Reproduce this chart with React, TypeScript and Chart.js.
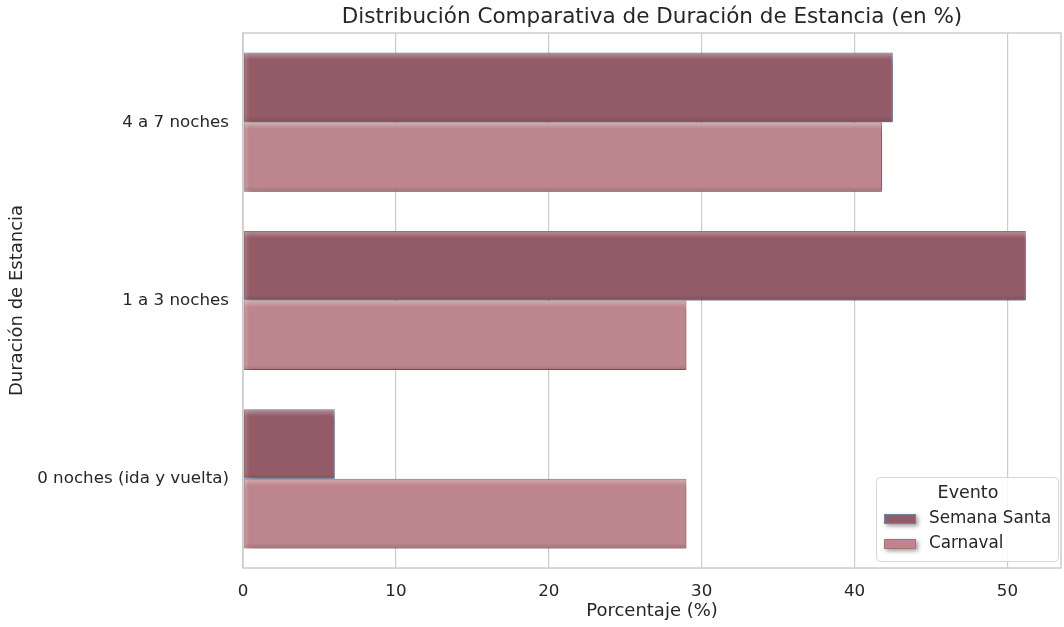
import React, { useEffect, useRef } from "react";
import { Chart, registerables } from "chart.js";

Chart.register(...registerables);

const categories = ["4 a 7 noches", "1 a 3 noches", "0 noches (ida y vuelta)"];
const semanaSanta = [42.5, 51.2, 6.0];
const carnaval = [41.8, 29.0, 29.0];
const xTicks = [0, 10, 20, 30, 40, 50];

const FONT = "'DejaVu Sans', sans-serif";
const COLOR_SS = "#935b67";
const COLOR_CA = "#bd858d";

// soft drop shadow behind each bar
const shadowPlugin = {
  id: "barShadow",
  beforeDatasetDraw(chart: any) {
    const ctx = chart.ctx;
    ctx.save();
    ctx.shadowColor = "rgba(0,0,0,0.4)";
    ctx.shadowBlur = 8;
    ctx.shadowOffsetX = 3;
    ctx.shadowOffsetY = 4;
  },
  afterDatasetDraw(chart: any) {
    chart.ctx.restore();
  },
};

// bevel highlights on bars, plot frame, title and legend box
const decorPlugin = {
  id: "decor",
  afterDatasetsDraw(chart: any) {
    const ctx = chart.ctx;
    chart.data.datasets.forEach((_: any, di: number) => {
      const meta = chart.getDatasetMeta(di);
      meta.data.forEach((bar: any) => {
        const left = Math.min(bar.base, bar.x);
        const right = Math.max(bar.base, bar.x);
        const top = bar.y - bar.height / 2;
        const bottom = bar.y + bar.height / 2;
        const w = right - left;
        ctx.save();
        const g = ctx.createLinearGradient(0, top, 0, top + 7);
        g.addColorStop(0, "rgba(255,255,255,0.32)");
        g.addColorStop(1, "rgba(255,255,255,0)");
        ctx.fillStyle = g;
        ctx.fillRect(left + 1, top + 1, w - 2, 7);
        const gl = ctx.createLinearGradient(left, 0, left + 6, 0);
        gl.addColorStop(0, "rgba(255,255,255,0.2)");
        gl.addColorStop(1, "rgba(255,255,255,0)");
        ctx.fillStyle = gl;
        ctx.fillRect(left + 1, top + 1, 6, bar.height - 2);
        const gb = ctx.createLinearGradient(0, bottom - 5, 0, bottom);
        gb.addColorStop(0, "rgba(0,0,0,0)");
        gb.addColorStop(1, "rgba(0,0,0,0.14)");
        ctx.fillStyle = gb;
        ctx.fillRect(left + 1, bottom - 5, w - 2, 4);
        ctx.restore();
      });
    });
  },
  afterDraw(chart: any) {
    const ctx = chart.ctx;
    const a = chart.chartArea;
    ctx.save();
    // frame
    ctx.strokeStyle = "#cccccc";
    ctx.lineWidth = 1.5;
    ctx.strokeRect(a.left, a.top, a.right - a.left, a.bottom - a.top);
    // title
    ctx.fillStyle = "#262626";
    ctx.font = `21.5px ${FONT}`;
    ctx.textAlign = "center";
    ctx.textBaseline = "middle";
    ctx.fillText(
      "Distribución Comparativa de Duración de Estancia (en %)",
      (a.left + a.right) / 2,
      17
    );
    // legend
    const lx = 876, ly = 477, lw = 182, lh = 84;
    ctx.fillStyle = "rgba(255,255,255,0.85)";
    ctx.strokeStyle = "#d6d6d6";
    ctx.lineWidth = 1;
    ctx.beginPath();
    ctx.roundRect(lx + 0.5, ly + 0.5, lw, lh, 4);
    ctx.fill();
    ctx.stroke();
    ctx.fillStyle = "#262626";
    ctx.font = `17.5px ${FONT}`;
    ctx.fillText("Evento", lx + lw / 2 + 1, ly + 16);
    const items = [
      { label: "Semana Santa", color: COLOR_SS, edge: "#6f84a8" },
      { label: "Carnaval", color: COLOR_CA, edge: "#a8756c" },
    ];
    items.forEach((it, i) => {
      const cy = ly + 42 + i * 25;
      ctx.save();
      ctx.shadowColor = "rgba(0,0,0,0.4)";
      ctx.shadowBlur = 4;
      ctx.shadowOffsetX = 2;
      ctx.shadowOffsetY = 2;
      ctx.fillStyle = it.color;
      ctx.fillRect(lx + 8, cy - 5, 32, 10);
      ctx.restore();
      ctx.strokeStyle = it.edge;
      ctx.lineWidth = 1;
      ctx.strokeRect(lx + 8.5, cy - 4.5, 31, 9);
      ctx.fillStyle = "#262626";
      ctx.font = `16.8px ${FONT}`;
      ctx.textAlign = "left";
      ctx.fillText(it.label, lx + 53, cy);
    });
    ctx.restore();
  },
};

export default function App() {
  const ref = useRef<HTMLCanvasElement>(null);
  useEffect(() => {
    if (!ref.current) return;
    const chart = new Chart(ref.current, {
      type: "bar",
      data: {
        labels: categories,
        datasets: [
          {
            label: "Semana Santa",
            data: semanaSanta,
            backgroundColor: COLOR_SS,
            borderColor: "#6f84a8",
            borderWidth: 1,
            categoryPercentage: 0.78,
            barPercentage: 1,
          },
          {
            label: "Carnaval",
            data: carnaval,
            backgroundColor: COLOR_CA,
            borderColor: "#a8756c",
            borderWidth: 1,
            categoryPercentage: 0.78,
            barPercentage: 1,
          },
        ],
      },
      options: {
        indexAxis: "y",
        animation: false,
        responsive: false,
        maintainAspectRatio: false,
        layout: { padding: { top: 33, right: 3, left: 0, bottom: 0 } },
        plugins: {
          legend: { display: false },
          tooltip: { enabled: false },
          title: { display: false },
        },
        scales: {
          x: {
            min: 0,
            max: 53.5,
            afterBuildTicks(scale: any) {
              scale.ticks = xTicks.map((v) => ({ value: v }));
            },
            grid: { color: "#cccccc", lineWidth: 1.2, drawTicks: false },
            border: { display: false },
            ticks: {
              color: "#262626",
              font: { family: FONT, size: 16.7 },
              padding: 14,
            },
            title: {
              display: true,
              text: "Porcentaje (%)",
              color: "#262626",
              font: { family: FONT, size: 18 },
              padding: { top: 0, bottom: 5 },
            },
            afterFit(scale: any) {
              scale.height = 59;
            },
          },
          y: {
            grid: { display: false, drawTicks: false },
            border: { display: false },
            ticks: {
              color: "#262626",
              font: { family: FONT, size: 16.7 },
              padding: 14,
            },
            title: {
              display: true,
              text: "Duración de Estancia",
              color: "#262626",
              font: { family: FONT, size: 18 },
              padding: { top: 7, bottom: 0 },
            },
            afterFit(scale: any) {
              scale.width = 243;
            },
          },
        },
      },
      plugins: [shadowPlugin, decorPlugin],
    } as any);
    return () => chart.destroy();
  }, []);
  return (
    <div style={{ position: "absolute", left: 0, top: 0, width: 1064, height: 627, background: "#fff" }}>
      <canvas ref={ref} width={1064} height={627} style={{ display: "block" }} />
    </div>
  );
}
